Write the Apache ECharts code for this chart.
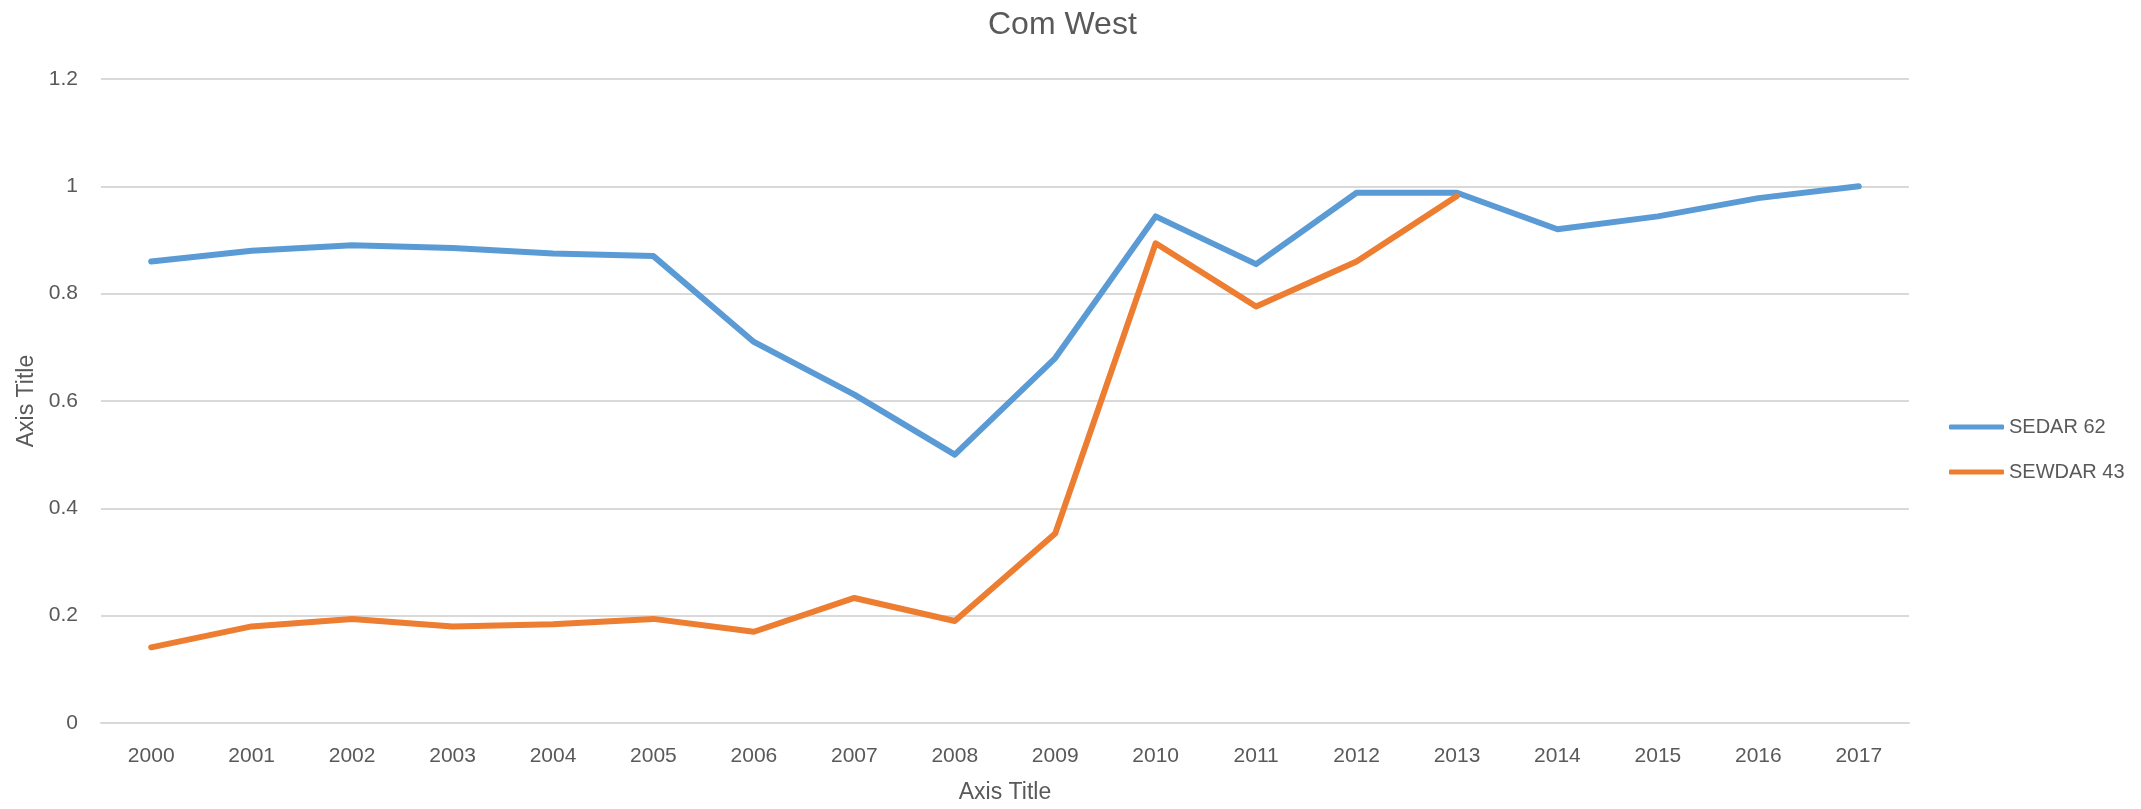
<!DOCTYPE html>
<html>
<head>
<meta charset="utf-8">
<title>Com West</title>
<script src="https://cdn.jsdelivr.net/npm/echarts@6/dist/echarts.min.js"></script>
<style>
  html, body { margin: 0; padding: 0; background: #fff; }
  #chart { width: 2141px; height: 809px; }
</style>
</head>
<body>
<div id="chart"></div>
<script>
// values
const years = ['2000', '2001', '2002', '2003', '2004', '2005', '2006', '2007', '2008',
  '2009', '2010', '2011', '2012', '2013', '2014', '2015', '2016', '2017']
const sedar62 = [0.86, 0.88, 0.89, 0.885, 0.875, 0.87, 0.71, 0.612, 0.5,
  0.68, 0.944, 0.855, 0.988, 0.988, 0.92, 0.944, 0.978, 1.0]
const sewdar43 = [0.141, 0.18, 0.194, 0.18, 0.184, 0.194, 0.17, 0.233, 0.19,
  0.353, 0.894, 0.776, 0.86, 0.982]
const seriesNames = ['SEDAR 62', 'SEWDAR 43']

const TEXT = '#595959'
const GRID = '#d9d9d9'
const FONT = '"Liberation Sans", Arial, sans-serif'

const chart = echarts.init(document.getElementById('chart'))
chart.setOption({
  animation: false,
  color: ['#5b9bd5', '#ed7d31'],
  textStyle: { fontFamily: FONT },
  title: {
    text: 'Com West',
    left: 983,
    top: 4,
    textStyle: { color: TEXT, fontSize: 32, fontWeight: 'normal', fontFamily: FONT }
  },
  legend: {
    orient: 'vertical',
    left: 1944,
    top: 412,
    icon: 'roundRect',
    itemWidth: 55,
    itemHeight: 5,
    itemGap: 25,
    data: seriesNames,
    textStyle: { color: TEXT, fontSize: 20 }
  },
  grid: { left: 101, right: 232, top: 79, bottom: 85, containLabel: false },
  xAxis: {
    type: 'category',
    data: years,
    boundaryGap: true,
    name: 'Axis Title',
    nameLocation: 'middle',
    nameGap: 58,
    nameTextStyle: { color: TEXT, fontSize: 23 },
    axisLine: { lineStyle: { color: GRID, width: 2 } },
    axisTick: { show: false },
    axisLabel: { color: TEXT, fontSize: 21, margin: 23 }
  },
  yAxis: {
    type: 'value',
    min: 0,
    max: 1.2,
    interval: 0.2,
    name: 'Axis Title',
    nameLocation: 'middle',
    nameGap: 60,
    nameTextStyle: { color: TEXT, fontSize: 23 },
    axisLine: { show: false },
    axisTick: { show: false },
    splitLine: { lineStyle: { color: GRID, width: 2 } },
    axisLabel: { color: TEXT, fontSize: 21, margin: 23 }
  },
  series: [
    {
      name: seriesNames[0],
      type: 'line',
      data: sedar62,
      symbol: 'none',
      lineStyle: { width: 6, cap: 'round', join: 'round' }
    },
    {
      name: seriesNames[1],
      type: 'line',
      data: sewdar43,
      symbol: 'none',
      lineStyle: { width: 6, cap: 'round', join: 'round' }
    }
  ]
})
</script>
</body>
</html>
